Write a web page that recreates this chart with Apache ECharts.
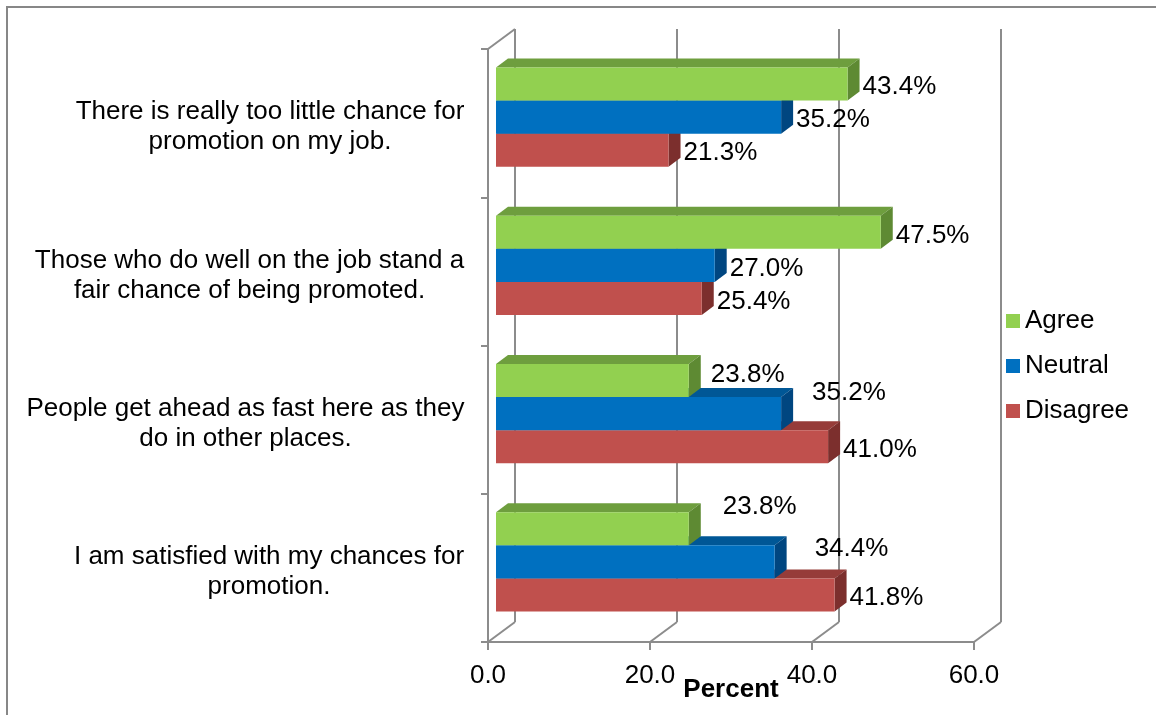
<!DOCTYPE html>
<html>
<head>
<meta charset="utf-8">
<script src="https://cdn.jsdelivr.net/npm/echarts@6/dist/echarts.min.js"></script>
<style>
  html, body { margin: 0; padding: 0; background: #fff; }
  #chart { width: 1156px; height: 715px; }
</style>
</head>
<body>
<div id="chart"></div>
<script>
// Survey statements, top to bottom
const statements = [
  'There is really too little chance for\npromotion on my job.',
  'Those who do well on the job stand a\nfair chance of being promoted.',
  'People get ahead as fast here as they\ndo in other places.',
  'I am satisfied with my chances for\npromotion.'
];
const seriesNames = ['Agree', 'Neutral', 'Disagree'];
// Percent of respondents per answer, one value per statement
const agree = [43.4, 47.5, 23.8, 23.8];
const neutral = [35.2, 27.0, 35.2, 34.4];
const disagree = [21.3, 25.4, 41.0, 41.8];
// Percent axis ticks
const percentTicks = [0, 20, 40, 60];

const FONT = '"Liberation Sans", Arial, sans-serif';
const FONT_SIZE = 26;
const GRID_LINE = '#8c8c8c';

// Face colours for the 3-D bars (front, top, side)
const shades = {
  Agree:    { front: '#92D050', top: '#6E9E3E', side: '#5E8A33' },
  Neutral:  { front: '#0070C0', top: '#005796', side: '#004680' },
  Disagree: { front: '#C0504D', top: '#963C39', side: '#7C2F2D' }
};

// Depth of a bar and of the chart walls, in pixels
const BAR_DX = 12, BAR_DY = -9;
const WALL_DX = 27, WALL_DY = -20;

// Value labels that sit a little away from their bar (statement-series -> [dx, dy])
const labelShift = {
  '2-0': [7, -9],
  '2-1': [16, -24],
  '3-0': [19, -25],
  '3-1': [25, -16]
};

const tickMin = percentTicks[0];
const tickMax = percentTicks[percentTicks.length - 1];
const tickStep = percentTicks[1] - percentTicks[0];

// Each statement is a centred two-line block whose right edge sits by the axis
const measureCtx = document.createElement('canvas').getContext('2d');
measureCtx.font = FONT_SIZE + 'px ' + FONT;
const statementRich = {};
statements.forEach((s, i) => {
  const w = Math.max(...s.split('\n').map(line => measureCtx.measureText(line).width));
  statementRich['s' + i] = {
    width: Math.ceil(w) + 1,
    align: 'center',
    fontFamily: FONT,
    fontSize: FONT_SIZE,
    color: '#000',
    lineHeight: 30
  };
});

function barSeries(name, values, order) {
  const c = shades[name];
  return {
    name: name,
    type: 'custom',
    xAxisIndex: 2,
    yAxisIndex: 2,
    z: 10 - order,
    itemStyle: { color: c.front },
    encode: { x: 0, y: 1 },
    data: values.map((v, i) => [v, i]),
    renderItem: function (params, api) {
      const v = api.value(0);
      const cat = api.value(1);
      const base = api.coord([0, cat]);
      const tip = api.coord([v, cat]);
      const band = api.size([0, 1])[1];
      const h = band * 0.2226;
      const y0 = base[1] - 1.5 * h + order * h;
      const x0 = base[0], x1 = tip[0];
      const shift = labelShift[cat + '-' + order] || [0, 0];
      return {
        type: 'group',
        children: [
          {
            type: 'polygon',
            shape: { points: [[x0, y0], [x1, y0], [x1 + BAR_DX, y0 + BAR_DY], [x0 + BAR_DX, y0 + BAR_DY]] },
            style: { fill: c.top }
          },
          {
            type: 'polygon',
            shape: { points: [[x1, y0], [x1 + BAR_DX, y0 + BAR_DY], [x1 + BAR_DX, y0 + h + BAR_DY], [x1, y0 + h]] },
            style: { fill: c.side }
          },
          {
            type: 'rect',
            shape: { x: x0, y: y0, width: x1 - x0, height: h },
            style: { fill: c.front }
          },
          {
            type: 'text',
            x: x1 + BAR_DX + 3 + shift[0],
            y: y0 + h / 2 + 3 + shift[1],
            style: {
              text: v.toFixed(1) + '%',
              fill: '#000',
              font: FONT_SIZE + 'px ' + FONT,
              align: 'left',
              verticalAlign: 'middle'
            }
          }
        ]
      };
    }
  };
}

const chart = echarts.init(document.getElementById('chart'), null, { renderer: 'canvas' });

chart.setOption({
  animation: false,
  backgroundColor: '#fff',
  graphic: [{
    type: 'rect',
    shape: { x: 7, y: 7, width: 1170, height: 730 },
    style: { fill: 'none', stroke: '#878787', lineWidth: 2 },
    silent: true
  }],
  legend: {
    data: seriesNames,
    orient: 'vertical',
    left: 1001,
    top: 301,
    icon: 'rect',
    itemWidth: 14,
    itemHeight: 14,
    itemGap: 15,
    textStyle: { fontFamily: FONT, fontSize: FONT_SIZE, color: '#000', lineHeight: 30 }
  },
  grid: [
    // front wall / axes
    { left: 488, top: 49, width: 486, height: 593, containLabel: false, outerBoundsMode: 'none' },
    // back wall
    { left: 488 + WALL_DX, top: 49 + WALL_DY, width: 486, height: 593, containLabel: false, outerBoundsMode: 'none' },
    // bar plane
    { left: 496, top: 43, width: 486, height: 593, containLabel: false, outerBoundsMode: 'none' }
  ],
  xAxis: [
    {
      gridIndex: 0, type: 'value', min: tickMin, max: tickMax, interval: tickStep,
      name: 'Percent', nameLocation: 'middle', nameGap: 35, nameMoveOverlap: false,
      nameTextStyle: { fontFamily: FONT, fontSize: FONT_SIZE, fontWeight: 'bold', color: '#000' },
      axisLine: { show: true, lineStyle: { color: GRID_LINE, width: 2 } },
      axisTick: { show: true, length: 8, lineStyle: { color: GRID_LINE, width: 2 } },
      splitLine: { show: false },
      axisLabel: {
        fontFamily: FONT, fontSize: FONT_SIZE, color: '#000', margin: 21,
        formatter: v => v.toFixed(1)
      }
    },
    {
      gridIndex: 1, type: 'value', min: tickMin, max: tickMax, interval: tickStep,
      axisLine: { show: false }, axisTick: { show: false }, axisLabel: { show: false },
      splitLine: { show: true, lineStyle: { color: GRID_LINE, width: 2 } }
    },
    {
      gridIndex: 2, type: 'value', min: tickMin, max: tickMax, interval: tickStep, show: false
    }
  ],
  yAxis: [
    {
      gridIndex: 0, type: 'category', data: statements, inverse: true,
      axisLine: { show: true, lineStyle: { color: GRID_LINE, width: 2 } },
      axisTick: { show: true, length: 7, lineStyle: { color: GRID_LINE, width: 2 } },
      axisLabel: {
        margin: 23,
        align: 'right',
        padding: [8, 0, 0, 0],
        formatter: (value, index) => value.split('\n').map(line => '{s' + index + '|' + line + '}').join('\n'),
        rich: statementRich
      }
    },
    { gridIndex: 1, type: 'value', show: false, splitLine: { show: false } },
    { gridIndex: 2, type: 'category', data: statements, inverse: true, show: false }
  ],
  series: [
    // Floor edges and the top edge of the side wall
    {
      type: 'custom',
      xAxisIndex: 0,
      yAxisIndex: 0,
      silent: true,
      z: 1,
      data: percentTicks.map(v => [v, 0]),
      encode: { x: 0, y: 1 },
      renderItem: function (params, api) {
        const cs = params.coordSys;
        const x = api.coord([api.value(0), 0])[0];
        const yb = cs.y + cs.height;
        const lineStyle = { stroke: GRID_LINE, lineWidth: 2 };
        const children = [{
          type: 'line',
          shape: { x1: x, y1: yb, x2: x + WALL_DX, y2: yb + WALL_DY },
          style: lineStyle
        }];
        if (api.value(0) === tickMin) {
          children.push({
            type: 'line',
            shape: { x1: cs.x, y1: cs.y, x2: cs.x + WALL_DX, y2: cs.y + WALL_DY },
            style: lineStyle
          });
        }
        return { type: 'group', children: children };
      }
    },
    barSeries('Agree', agree, 0),
    barSeries('Neutral', neutral, 1),
    barSeries('Disagree', disagree, 2)
  ]
});
</script>
</body>
</html>
